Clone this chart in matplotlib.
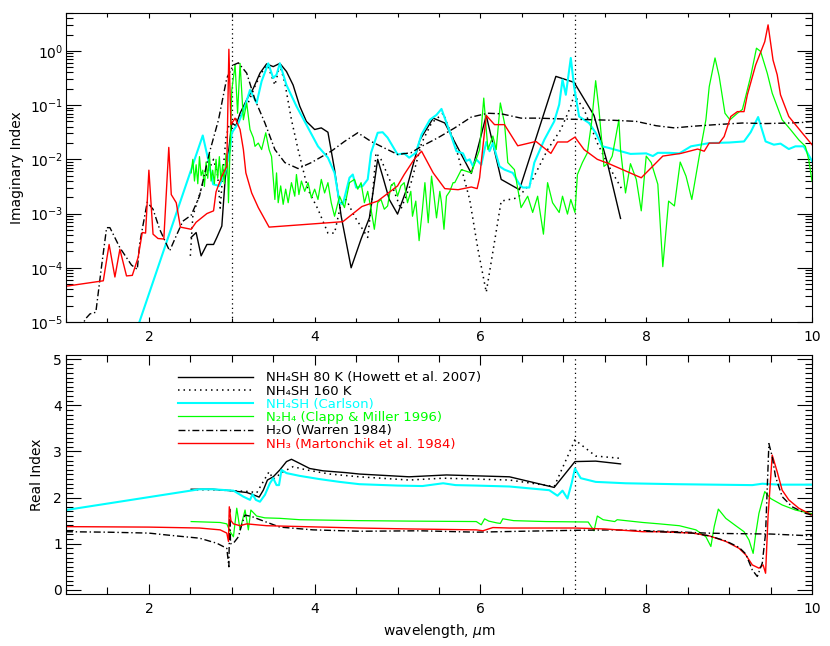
import numpy as np
import matplotlib
matplotlib.use("Agg")
import matplotlib.pyplot as plt
from matplotlib.ticker import MultipleLocator, FixedLocator, LogLocator, NullFormatter, LogFormatterSciNotation

plt.rcParams['font.family'] = ['DejaVu Sans']
plt.rcParams['mathtext.fontset'] = 'dejavusans'

# ---------------- Imaginary index (values stored as log10 k) ----------------
nh4sh80_k_wl = [2.51, 2.57, 2.63, 2.70, 2.78, 2.82, 2.88, 2.92, 2.96, 3.00, 3.05, 3.10, 3.18, 3.26, 3.34,
                3.42, 3.50, 3.58, 3.66, 3.74, 3.82, 3.90, 4.00, 4.08, 4.16, 4.24, 4.32, 4.44, 4.56, 4.66,
                4.76, 4.82, 4.90, 5.00, 5.10, 5.27, 5.43, 5.57, 5.89, 6.07, 6.25, 6.47, 6.91, 7.13, 7.37,
                7.53, 7.69]
nh4sh80_k_log = [-3.44, -3.35, -3.78, -3.57, -3.57, -3.44, -3.23, -2.37, -1.88, -1.33, -1.38, -1.15, -0.90,
                 -0.69, -0.41, -0.24, -0.29, -0.23, -0.38, -0.63, -1.02, -1.30, -1.45, -1.42, -1.50, -2.19,
                 -3.05, -4.00, -3.47, -3.08, -2.00, -2.31, -2.74, -3.01, -2.59, -1.64, -1.24, -1.33, -2.26,
                 -1.19, -2.37, -2.56, -0.47, -0.58, -1.19, -2.06, -3.09]

nh4sh160_k_wl = [2.50, 2.53, 2.58, 2.65, 2.72, 2.78, 2.83, 2.86, 2.89, 2.93, 2.97, 3.02, 3.10, 3.20, 3.28,
                 3.36, 3.43, 3.52, 3.58, 3.64, 3.72, 3.80, 3.92, 4.04, 4.16, 4.24, 4.32, 4.38, 4.48, 4.64,
                 4.70, 4.74, 4.80, 4.92, 5.04, 5.16, 5.29, 5.41, 5.55, 5.69, 5.87, 5.97, 6.07, 6.25, 6.45,
                 6.61, 6.81, 6.97, 7.09, 7.13, 7.25, 7.41, 7.55, 7.71]
nh4sh160_k_log = [-3.78, -3.05, -2.80, -2.45, -2.20, -2.00, -2.30, -2.90, -2.30, -1.60, -1.35, -1.30, -1.20,
                  -0.95, -0.65, -0.40, -0.26, -0.63, -0.26, -0.59, -1.27, -1.82, -2.56, -2.92, -3.36, -3.36,
                  -2.80, -2.74, -3.05, -3.44, -2.62, -1.88, -2.00, -2.43, -2.92, -2.45, -1.70, -1.33, -1.15,
                  -1.70, -2.74, -3.66, -4.45, -2.77, -2.71, -2.43, -1.82, -1.45, -1.02, -0.81, -1.08, -1.70,
                  -2.13, -2.56]

carlson_k_wl = [1.00, 1.89, 2.65, 2.715, 2.775, 2.85, 2.92, 2.98, 3.00, 3.08, 3.16, 3.22, 3.30, 3.36, 3.44,
                3.50, 3.54, 3.58, 3.66, 3.78, 3.90, 4.04, 4.16, 4.24, 4.30, 4.34, 4.42, 4.46, 4.50, 4.58,
                4.64, 4.68, 4.76, 4.82, 4.88, 5.00, 5.08, 5.14, 5.22, 5.29, 5.39, 5.47, 5.53, 5.57, 5.65,
                5.71, 5.79, 5.83, 5.87, 5.91, 5.95, 6.01, 6.07, 6.11, 6.15, 6.23, 6.29, 6.39, 6.47, 6.51,
                6.59, 6.65, 6.77, 6.89, 6.95, 6.99, 7.03, 7.09, 7.13, 7.19, 7.31, 7.39, 7.47, 7.55, 7.81,
                8.00, 8.08, 8.14, 8.28, 8.40, 8.54, 8.76, 9.00, 9.18, 9.26, 9.35, 9.44, 9.54, 9.62, 9.72,
                9.80, 9.90, 10.0]
carlson_k_log = [-9.00, -4.98, -1.56, -2.00, -2.46, -2.49, -2.25, -1.82, -1.51, -1.33, -1.02, -0.72, -0.96,
                 -0.56, -0.23, -0.50, -0.44, -0.23, -0.63, -1.02, -1.36, -1.76, -1.97, -2.25, -2.80, -2.83,
                 -2.34, -2.28, -2.52, -2.49, -2.37, -1.88, -1.51, -1.50, -1.60, -1.91, -1.89, -1.97, -1.88,
                 -1.54, -1.27, -1.18, -1.07, -1.24, -1.58, -1.85, -1.89, -2.03, -2.00, -2.13, -2.00, -2.10,
                 -1.68, -1.85, -1.70, -2.13, -2.19, -2.25, -2.46, -2.52, -2.52, -2.06, -1.64, -1.30, -0.99,
                 -0.53, -0.81, -0.13, -0.66, -1.21, -1.33, -1.51, -1.76, -1.79, -1.90, -1.89, -1.94, -1.88,
                 -1.88, -1.89, -1.76, -1.70, -1.69, -1.67, -1.50, -1.22, -1.67, -1.73, -1.71, -1.81, -1.76,
                 -1.76, -2.03]

n2h4_k_wl = [2.51, 2.53, 2.55, 2.57, 2.59, 2.61, 2.63, 2.65, 2.67, 2.69, 2.71, 2.73, 2.75, 2.77, 2.79,
             2.81, 2.83, 2.85, 2.87, 2.89, 2.91, 2.93, 2.95, 2.96, 3.00, 3.04, 3.07, 3.10, 3.14, 3.18,
             3.22, 3.26, 3.28, 3.32, 3.36, 3.41, 3.45, 3.48, 3.52, 3.54, 3.56, 3.59, 3.62, 3.65, 3.68,
             3.72, 3.76, 3.78, 3.81, 3.84, 3.88, 3.92, 3.96, 4.00, 4.04, 4.08, 4.12, 4.16, 4.20, 4.24,
             4.30, 4.36, 4.42, 4.48, 4.52, 4.56, 4.60, 4.64, 4.68, 4.72, 4.76, 4.80, 4.84, 4.88, 4.92,
             4.96, 5.00, 5.04, 5.08, 5.12, 5.16, 5.18, 5.22, 5.26, 5.30, 5.33, 5.37, 5.41, 5.44, 5.47,
             5.51, 5.53, 5.56, 5.59, 5.63, 5.67, 5.69, 5.77, 5.89, 5.99, 6.04, 6.09, 6.15, 6.19, 6.24,
             6.29, 6.33, 6.41, 6.49, 6.57, 6.63, 6.69, 6.76, 6.81, 6.87, 6.95, 6.99, 7.05, 7.09, 7.14,
             7.17, 7.23, 7.29, 7.34, 7.39, 7.43, 7.49, 7.55, 7.59, 7.67, 7.69, 7.75, 7.81, 7.88, 7.94,
             8.00, 8.06, 8.14, 8.20, 8.27, 8.34, 8.41, 8.48, 8.55, 8.64, 8.72, 8.76, 8.83, 8.88, 8.95,
             9.01, 9.10, 9.16, 9.20, 9.26, 9.33, 9.38, 9.46, 9.52, 9.64, 9.74, 9.84, 9.92, 9.96, 10.0]
n2h4_k_log = [-2.25, -2.00, -2.40, -2.10, -2.45, -1.95, -2.30, -2.20, -2.50, -2.05, -2.35, -1.90, -2.40,
              -2.20, -2.45, -2.00, -2.35, -1.95, -2.40, -2.10, -2.45, -1.90, -2.10, -2.80, -0.72, -0.26,
              -1.15, -0.23, -1.27, -0.96, -1.45, -1.60, -1.76, -1.70, -1.82, -1.51, -1.82, -1.95, -2.74,
              -2.25, -2.80, -2.49, -2.83, -2.55, -2.80, -2.43, -2.68, -2.28, -2.65, -2.40, -2.59, -2.43,
              -2.71, -2.55, -2.74, -2.37, -2.62, -2.43, -2.80, -3.05, -2.68, -2.89, -2.43, -2.37, -2.55,
              -2.43, -2.80, -2.59, -2.92, -3.29, -2.80, -2.74, -2.92, -2.86, -2.49, -2.43, -2.68, -2.49,
              -2.43, -2.80, -2.59, -3.05, -2.77, -3.50, -2.92, -2.43, -3.17, -2.31, -2.68, -3.08, -2.59,
              -2.80, -3.29, -2.68, -2.59, -2.43, -2.43, -2.19, -2.25, -1.82, -0.87, -1.82, -1.57, -1.82,
              -0.96, -1.33, -2.06, -2.19, -2.89, -2.68, -2.98, -2.68, -3.38, -2.43, -2.80, -2.98, -2.68,
              -3.01, -2.74, -2.98, -2.28, -2.06, -1.88, -1.33, -0.55, -1.08, -2.13, -2.06, -1.94, -1.27,
              -1.82, -2.62, -2.08, -2.37, -2.95, -1.94, -2.06, -2.46, -3.98, -2.77, -2.86, -2.05, -2.31,
              -2.74, -1.94, -1.27, -0.66, -0.13, -0.47, -1.15, -1.27, -1.15, -1.08, -0.84, -0.47, 0.05,
              -0.01, -0.41, -0.78, -1.27, -1.45, -1.64, -1.76, -2.00, -2.40]

h2o_k_wl = [1.12, 1.23, 1.29, 1.36, 1.43, 1.49, 1.53, 1.65, 1.79, 1.86, 1.89, 1.98, 2.05, 2.13, 2.25,
            2.33, 2.41, 2.51, 2.61, 2.73, 2.84, 2.94, 3.02, 3.08, 3.18, 3.28, 3.40, 3.52, 3.64, 3.80,
            3.96, 4.20, 4.36, 4.52, 4.68, 4.80, 5.00, 5.16, 5.29, 5.49, 5.69, 5.89, 6.09, 6.25, 6.49,
            6.69, 7.09, 7.61, 7.88, 8.12, 8.34, 8.56, 8.84, 9.16, 9.44, 9.72, 9.88, 10.0]
h2o_k_log = [-5.40, -4.95, -4.85, -4.82, -3.96, -3.26, -3.26, -3.63, -3.95, -4.03, -3.54, -2.79, -2.92,
             -3.29, -3.69, -3.41, -3.14, -3.03, -2.68, -1.88, -1.27, -0.50, -0.26, -0.22, -0.41, -0.90,
             -1.33, -1.82, -2.06, -2.17, -2.06, -1.85, -1.67, -1.51, -1.67, -1.76, -1.91, -1.88, -1.76,
             -1.60, -1.42, -1.22, -1.15, -1.16, -1.24, -1.24, -1.26, -1.28, -1.30, -1.38, -1.42, -1.39,
             -1.36, -1.33, -1.34, -1.33, -1.32, -1.30]

nh3_k_wl = [1.00, 1.45, 1.52, 1.59, 1.65, 1.73, 1.80, 1.87, 1.92, 1.96, 2.00, 2.05, 2.11, 2.18, 2.24,
            2.27, 2.33, 2.38, 2.51, 2.57, 2.70, 2.78, 2.81, 2.88, 2.94, 2.965, 2.99, 3.04, 3.10, 3.14,
            3.17, 3.24, 3.32, 3.45, 4.34, 4.57, 4.76, 5.00, 5.08, 5.20, 5.29, 5.43, 5.57, 5.73, 5.89,
            5.96, 5.99, 6.07, 6.17, 6.29, 6.45, 6.67, 6.85, 6.93, 7.05, 7.14, 7.25, 7.41, 7.55, 7.94,
            8.20, 8.42, 8.62, 8.70, 8.76, 8.88, 8.94, 9.02, 9.10, 9.18, 9.22, 9.32, 9.43, 9.47, 9.53,
            9.58, 9.62, 9.72, 9.88, 10.0]
nh3_k_log = [-4.34, -4.24, -3.57, -4.17, -3.66, -4.15, -4.14, -3.81, -3.35, -3.36, -2.20, -3.38, -3.46,
             -3.47, -1.78, -2.65, -2.80, -3.25, -3.29, -3.16, -3.00, -2.95, -2.60, -2.31, -2.13, 0.03,
             -1.36, -1.24, -1.45, -1.82, -2.25, -2.62, -2.89, -3.25, -3.15, -2.87, -2.77, -2.49, -2.28,
             -2.00, -1.85, -2.25, -2.54, -2.56, -2.51, -2.54, -2.34, -1.19, -1.36, -1.36, -1.75, -1.67,
             -1.89, -1.68, -1.68, -1.59, -1.82, -2.00, -2.08, -2.34, -1.94, -1.89, -1.81, -1.85, -1.70,
             -1.70, -1.58, -1.21, -1.12, -1.12, -0.81, -0.26, 0.17, 0.48, -0.17, -0.44, -0.81, -1.21,
             -1.51, -1.73]

# ---------------- Real index ----------------
nh4sh80_n_wl = [2.51, 2.77, 2.98, 3.18, 3.26, 3.33, 3.38, 3.43, 3.50, 3.58, 3.66, 3.72, 3.82, 3.94, 4.10,
                4.38, 4.54, 5.14, 5.59, 6.35, 6.89, 7.14, 7.39, 7.69]
nh4sh80_n = [2.18, 2.18, 2.15, 2.11, 2.06, 2.01, 2.16, 2.38, 2.45, 2.60, 2.78, 2.83, 2.74, 2.63, 2.58,
             2.54, 2.51, 2.45, 2.49, 2.45, 2.22, 2.78, 2.79, 2.73]

nh4sh160_n_wl = [2.51, 2.77, 3.00, 3.22, 3.30, 3.42, 3.45, 3.50, 3.62, 3.74, 3.90, 4.18, 4.54, 5.14, 5.55,
                 6.35, 6.89, 7.14, 7.39, 7.69]
nh4sh160_n = [2.17, 2.17, 2.15, 2.13, 2.10, 2.47, 2.56, 2.40, 2.56, 2.67, 2.60, 2.51, 2.45, 2.38, 2.42,
              2.38, 2.24, 3.25, 2.90, 2.85]

carlson_n_wl = [1.00, 2.61, 2.77, 3.02, 3.14, 3.22, 3.25, 3.29, 3.34, 3.40, 3.46, 3.50, 3.54, 3.57, 3.60,
                3.66, 3.82, 4.06, 4.30, 4.54, 5.00, 5.30, 5.55, 5.70, 5.95, 6.35, 6.83, 6.93, 6.99, 7.05,
                7.10, 7.14, 7.21, 7.39, 7.75, 8.36, 9.28, 9.40, 9.60, 10.0]
carlson_n = [1.73, 2.18, 2.18, 2.15, 2.02, 1.95, 2.07, 1.95, 1.91, 2.06, 2.31, 2.42, 2.27, 2.27, 2.60,
             2.53, 2.47, 2.40, 2.34, 2.29, 2.26, 2.25, 2.31, 2.27, 2.26, 2.24, 2.16, 2.04, 2.15, 1.98,
             2.31, 2.63, 2.42, 2.34, 2.31, 2.29, 2.27, 2.30, 2.28, 2.28]

n2h4_n_wl = [2.51, 2.86, 2.94, 2.98, 3.02, 3.06, 3.10, 3.16, 3.20, 3.23, 3.30, 3.40, 3.58, 3.82, 4.54,
             5.14, 5.95, 6.01, 6.05, 6.10, 6.20, 6.24, 6.27, 6.40, 6.79, 7.30, 7.37, 7.41, 7.48, 7.62,
             7.65, 7.96, 8.16, 8.40, 8.60, 8.72, 8.78, 8.82, 8.87, 8.96, 9.08, 9.18, 9.24, 9.29, 9.32,
             9.36, 9.43, 9.50, 9.64, 9.80, 10.0]
n2h4_n = [1.48, 1.46, 1.43, 1.26, 1.15, 1.77, 1.30, 1.73, 1.30, 1.73, 1.60, 1.56, 1.55, 1.52, 1.50,
          1.49, 1.48, 1.41, 1.54, 1.49, 1.45, 1.44, 1.54, 1.50, 1.48, 1.47, 1.28, 1.60, 1.52, 1.48,
          1.52, 1.46, 1.43, 1.39, 1.30, 1.15, 0.94, 1.37, 1.75, 1.55, 1.39, 1.26, 1.08, 0.79, 1.20,
          1.66, 2.13, 1.98, 1.84, 1.73, 1.65]

h2o_n_wl = [1.00, 1.50, 2.00, 2.21, 2.61, 2.82, 2.94, 2.965, 2.975, 2.985, 3.02, 3.08, 3.12, 3.16, 3.24,
            3.34, 3.46, 3.58, 3.98, 4.54, 5.27, 5.95, 6.50, 7.14, 7.60, 8.00, 8.36, 8.72, 9.00, 9.50, 10.0]
h2o_n = [1.26, 1.25, 1.23, 1.19, 1.12, 1.01, 0.90, 0.50, 1.75, 1.00, 1.01, 1.15, 1.41, 1.62, 1.59,
         1.52, 1.44, 1.36, 1.30, 1.27, 1.28, 1.25, 1.27, 1.29, 1.30, 1.28, 1.26, 1.23, 1.22, 1.21, 1.17]

nh3_n_wl = [1.00, 2.00, 2.61, 2.86, 2.94, 2.96, 2.97, 2.99, 3.02, 3.10, 3.18, 3.42, 4.54, 5.14, 5.95,
            6.03, 6.15, 6.35, 7.14, 7.50, 7.96, 8.16, 8.56, 8.76, 8.96, 9.12, 9.20, 9.28, 9.36, 9.41,
            9.44, 9.47, 9.52, 9.58, 9.64, 9.72, 9.84, 10.0]
nh3_n = [1.37, 1.36, 1.34, 1.30, 1.23, 1.05, 1.80, 1.50, 1.43, 1.39, 1.43, 1.39, 1.34, 1.32, 1.30,
         1.28, 1.35, 1.34, 1.34, 1.32, 1.26, 1.26, 1.23, 1.17, 1.05, 0.90, 0.76, 0.54, 0.47, 0.54,
         0.36, 1.60, 2.92, 2.56, 2.16, 1.95, 1.77, 1.62]

# second (unlabelled) dash-dot curve following NH3 near 9.4 um
nh3_alt_n_wl = [8.00, 8.30, 8.56, 8.76, 8.96, 9.12, 9.20, 9.28, 9.34, 9.40, 9.44, 9.48, 9.52, 9.56, 9.64,
                9.76, 9.92, 10.0]
nh3_alt_n = [1.27, 1.25, 1.23, 1.17, 1.06, 0.92, 0.78, 0.43, 0.29, 0.58, 1.23, 3.17, 2.89, 2.45, 2.02,
             1.80, 1.66, 1.62]

marker_wl_top = [3.0, 7.14]
marker_wl_bottom = [7.14]

labels = ['NH\u2084SH 80 K (Howett et al. 2007)',
          'NH\u2084SH 160 K',
          'NH\u2084SH (Carlson)',
          'N\u2082H\u2084 (Clapp & Miller 1996)',
          'H\u2082O (Warren 1984)',
          'NH\u2083 (Martonchik et al. 1984)']

CYAN = '#00FFFF'
GREEN = '#00FF00'
RED = '#FF0000'
DOT = (0, (1.0, 2.6))
DASHDOT = (0, (5.0, 2.0, 1.0, 2.0))

fig = plt.figure(figsize=(8.3, 6.46), dpi=100)
ax1 = fig.add_axes([66/830, 1-322/646, 746/830, 309/646])
ax2 = fig.add_axes([66/830, 1-594/646, 746/830, 239/646])

def k(v):
    return 10.0 ** np.asarray(v)

# top panel
for xv in marker_wl_top:
    ax1.axvline(xv, color='k', lw=0.9, linestyle=DOT, zorder=1)
ax1.plot(nh4sh80_k_wl, k(nh4sh80_k_log), color='k', lw=1.0)
ax1.plot(nh4sh160_k_wl, k(nh4sh160_k_log), color='k', lw=1.1, linestyle=DOT)
ax1.plot(carlson_k_wl, k(carlson_k_log), color=CYAN, lw=1.5)
ax1.plot(n2h4_k_wl, k(n2h4_k_log), color=GREEN, lw=0.9)
ax1.plot(h2o_k_wl, k(h2o_k_log), color='k', lw=1.0, linestyle=DASHDOT)
ax1.plot(nh3_k_wl, k(nh3_k_log), color=RED, lw=1.0)
ax1.set_yscale('log')
ax1.set_xlim(1, 10)
ax1.set_ylim(1.0e-5, 5.0)

# bottom panel
for xv in marker_wl_bottom:
    ax2.axvline(xv, color='k', lw=0.9, linestyle=DOT, zorder=1)
h1, = ax2.plot(nh4sh80_n_wl, nh4sh80_n, color='k', lw=1.0)
h2, = ax2.plot(nh4sh160_n_wl, nh4sh160_n, color='k', lw=1.1, linestyle=DOT)
h3, = ax2.plot(carlson_n_wl, carlson_n, color=CYAN, lw=1.5)
h4, = ax2.plot(n2h4_n_wl, n2h4_n, color=GREEN, lw=0.9)
h5, = ax2.plot(h2o_n_wl, h2o_n, color='k', lw=1.0, linestyle=DASHDOT)
h6, = ax2.plot(nh3_n_wl, nh3_n, color=RED, lw=1.0)
ax2.plot(nh3_alt_n_wl, nh3_alt_n, color='k', lw=1.0, linestyle=DASHDOT)
ax2.set_xlim(1, 10)
ax2.set_ylim(-0.09, 5.09)

leg = ax2.legend([h1, h2, h3, h4, h5, h6], labels, loc='upper left',
                 bbox_to_anchor=(112/746, 0.932), frameon=False, fontsize=9.5,
                 handlelength=5.7, handletextpad=1.0, labelspacing=0.02,
                 borderpad=0.0, borderaxespad=0.0, labelcolor='linecolor')

for ax in (ax1, ax2):
    ax.xaxis.set_major_locator(FixedLocator([2, 4, 6, 8, 10]))
    ax.xaxis.set_minor_locator(MultipleLocator(0.5))
    ax.tick_params(which='both', direction='in', top=True, right=True, labelsize=10, width=0.8)
    for s in ax.spines.values():
        s.set_linewidth(0.8)

ax1.yaxis.set_major_locator(LogLocator(base=10, numticks=20))
ax1.yaxis.set_minor_locator(LogLocator(base=10, subs=np.arange(2, 10), numticks=20))
ax1.yaxis.set_minor_formatter(NullFormatter())
ax1.yaxis.set_major_formatter(LogFormatterSciNotation())
ax1.tick_params(axis='x', which='major', length=3.5, pad=6)
ax1.tick_params(axis='x', which='minor', length=3.0)
ax1.tick_params(axis='y', which='major', length=10.8, pad=2)
ax1.tick_params(axis='y', which='minor', length=5.0)

ax2.yaxis.set_major_locator(MultipleLocator(1))
ax2.yaxis.set_minor_locator(MultipleLocator(0.1))
ax2.tick_params(axis='x', which='major', length=7.2, pad=6)
ax2.tick_params(axis='x', which='minor', length=5.0)
ax2.tick_params(axis='y', which='major', length=10.8, pad=3)
ax2.tick_params(axis='y', which='minor', length=5.0)

ax1.set_ylabel('Imaginary Index', fontsize=10)
ax1.yaxis.set_label_coords(-0.056, 0.5)
ax2.set_ylabel('Real Index', fontsize=10)
ax2.yaxis.set_label_coords(-0.029, 0.5)
ax2.set_xlabel(r'wavelength, $\mu$m', fontsize=10, labelpad=4)

fig.savefig('out.png', dpi=100)
